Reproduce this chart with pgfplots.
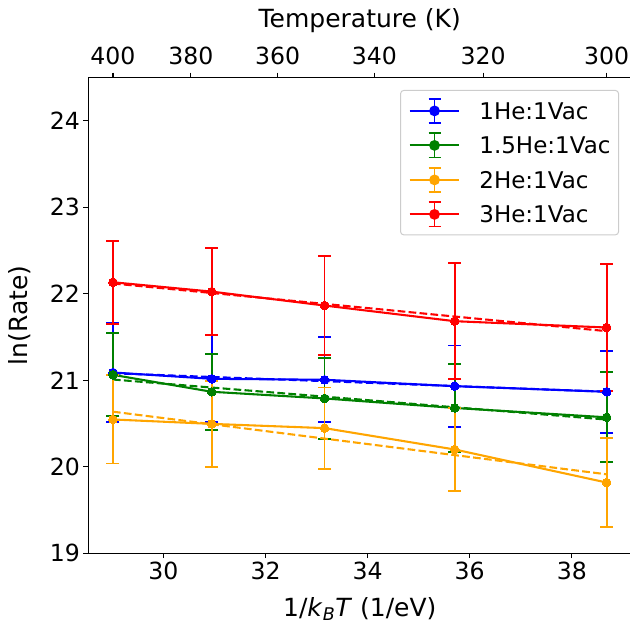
\documentclass[border=0pt]{standalone}
\usepackage{fontspec}
\setmainfont{DejaVu Sans}
\usepackage{pgfplots}
\usepackage{pgfplotstable}
\pgfplotsset{compat=1.18}

\definecolor{mblue}{HTML}{0000FF}
\definecolor{mgreen}{HTML}{008000}
\definecolor{morange}{HTML}{FFA500}
\definecolor{mred}{HTML}{FF0000}

% x = 1/(k_B T) for T = 400, 375, 350, 325, 300 K
\pgfplotstableread{
x y e
29.011 21.090 0.57
30.946 21.017 0.50
33.156 21.006 0.49
35.706 20.932 0.47
38.682 20.867 0.475
}\tblA
\pgfplotstableread{
x y
29.011 21.081
30.946 21.038
33.156 20.990
35.706 20.933
38.682 20.868
}\fitA
\pgfplotstableread{
x y e
29.011 21.063 0.48
30.946 20.867 0.44
33.156 20.790 0.47
35.706 20.680 0.51
38.682 20.572 0.52
}\tblB
\pgfplotstableread{
x y
29.011 21.009
30.946 20.916
33.156 20.811
35.706 20.688
38.682 20.546
}\fitB
\pgfplotstableread{
x y e
29.011 20.547 0.51
30.946 20.496 0.50
33.156 20.447 0.47
35.706 20.200 0.48
38.682 19.818 0.515
}\tblC
\pgfplotstableread{
x y
29.011 20.637
30.946 20.492
33.156 20.326
35.706 20.135
38.682 19.913
}\fitC
\pgfplotstableread{
x y e
29.011 22.133 0.48
30.946 22.025 0.50
33.156 21.864 0.57
35.706 21.683 0.67
38.682 21.610 0.73
}\tblD
\pgfplotstableread{
x y
29.011 22.119
30.946 22.009
33.156 21.883
35.706 21.737
38.682 21.568
}\fitD

\pgfplotsset{
  ser/.style={color=#1, line width=2.08bp, mark=*, mark size=4.3bp,
    mark options={solid, fill=#1, draw=#1, line width=0pt},
    error bars/.cd, y dir=both, y explicit,
    error bar style={line width=1.8bp, #1},
    error mark=|,
    error mark options={line width=1.8bp, mark size=6.5bp, #1}},
  fit/.style={color=#1, line width=2.08bp, dash pattern=on 7.7bp off 3.3bp, no markers, forget plot},
  common/.style={width=543bp, height=475.8bp, scale only axis,
    xmin=28.528, xmax=39.165, ymin=19, ymax=24.5,
    tick align=outside, major tick length=4.9bp,
    every tick/.style={black, line width=1.1bp},
    axis line style={line width=1.1bp},
    ticklabel style={font=\fontsize{23.6bp}{28bp}\selectfont},
    /pgf/number format/assume math mode=true,
    label style={font=\fontsize{25bp}{30bp}\selectfont}},
}

\begin{document}
\begin{tikzpicture}
\begin{axis}[common, name=ax,
  xtick={30,32,34,36,38}, ytick={19,20,21,22,23,24},
  xtick pos=bottom, ytick pos=left,
  xlabel={1/\textit{k}\textsubscript{\textit{B}}\textit{T} (1/eV)},
  ylabel={ln(Rate)},
  xlabel style={at={(axis description cs:0.5,-0.1318)}, anchor=base},
  ylabel style={at={(axis description cs:-0.1267,0.5)}, anchor=center},
  legend image code/.code={
    \draw[solid, line width=2.08bp] (0bp,0bp) -- (49.7bp,0bp);
    \draw[solid, line width=1.8bp] (24.85bp,-12bp) -- (24.85bp,12bp);
    \draw[solid, line width=1.8bp] (18.85bp,-12bp) -- (30.85bp,-12bp);
    \draw[solid, line width=1.8bp] (18.85bp,12bp) -- (30.85bp,12bp);
    \fill (24.85bp,0bp) circle (4.3bp);
  },
  legend cell align=left,
  legend style={at={(0.97735,0.97373)}, anchor=north east,
    draw=black!20, line width=1bp, rounded corners=3bp, fill=white,
    font=\fontsize{23bp}{28bp}\selectfont,
    inner xsep=8bp, inner ysep=7.5bp, row sep=8.7bp, column sep=19bp,
    nodes={inner sep=0pt, text height=17bp, text depth=0pt}},
]
\addplot+[ser=mblue] table[x=x, y=y, y error=e] {\tblA};
\addlegendentry{1He:1Vac}
\addplot[fit=mblue] table[x=x, y=y] {\fitA};
\addplot+[ser=mgreen] table[x=x, y=y, y error=e] {\tblB};
\addlegendentry{1.5He:1Vac}
\addplot[fit=mgreen] table[x=x, y=y] {\fitB};
\addplot+[ser=morange] table[x=x, y=y, y error=e] {\tblC};
\addlegendentry{2He:1Vac}
\addplot[fit=morange] table[x=x, y=y] {\fitC};
\addplot+[ser=mred] table[x=x, y=y, y error=e] {\tblD};
\addlegendentry{3He:1Vac}
\addplot[fit=mred] table[x=x, y=y] {\fitD};
\end{axis}
\begin{axis}[common,
  axis x line*=top, axis y line=none,
  xtick={29.011,30.538,32.235,34.131,36.264,38.682},
  xticklabels={400,380,360,340,320,300},
  xticklabel style={yshift=4bp},
  xlabel={Temperature (K)},
  xlabel style={at={(axis description cs:0.5,1.106)}, anchor=base},
]
\end{axis}
\pgfresetboundingbox
\path[use as bounding box] (ax.south west) ++(-88.3bp,-73.7bp) rectangle ++(630bp,627bp);
\end{tikzpicture}
\end{document}
